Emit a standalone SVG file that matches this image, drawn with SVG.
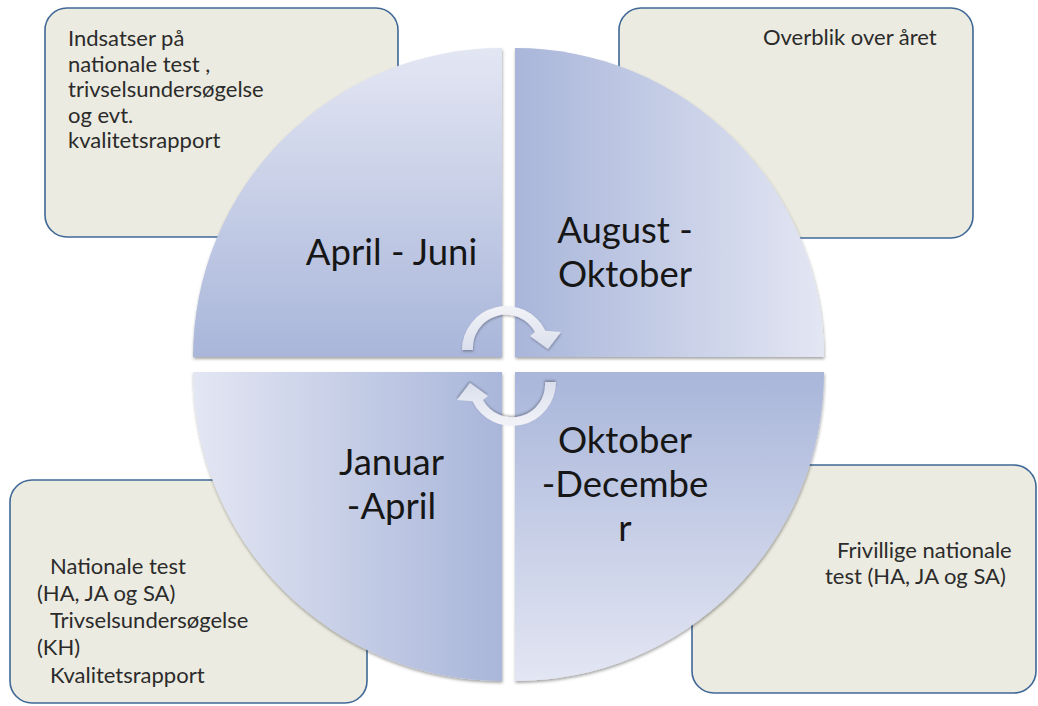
<svg xmlns="http://www.w3.org/2000/svg" width="1038" height="706" viewBox="0 0 1038 706">
<style>
.box{fill:#ecebe1;stroke:#3f6896;stroke-width:1.6}
.bt{font-family:Lato,"Liberation Sans",sans-serif;font-size:22px;fill:#2b2b2b}
.qt{font-family:Lato,"Liberation Sans",sans-serif;font-size:36.5px;fill:#161616;text-anchor:middle}
.arr{fill:url(#gArr);filter:url(#shA)}
</style>
<defs>
<linearGradient id="gTL" x1="0" y1="0" x2="0" y2="1"><stop offset="0" stop-color="#e3e6f3"/><stop offset="1" stop-color="#a9b6da"/></linearGradient>
<linearGradient id="gTR" x1="0" y1="0" x2="1" y2="0"><stop offset="0" stop-color="#a9b6da"/><stop offset="1" stop-color="#e3e6f3"/></linearGradient>
<linearGradient id="gBL" x1="0" y1="0" x2="1" y2="0"><stop offset="0" stop-color="#e3e6f3"/><stop offset="1" stop-color="#a9b6da"/></linearGradient>
<linearGradient id="gBR" x1="0" y1="0" x2="0" y2="1"><stop offset="0" stop-color="#a9b6da"/><stop offset="1" stop-color="#e3e6f3"/></linearGradient>
<linearGradient id="gArr" x1="0" y1="0" x2="0" y2="1"><stop offset="0" stop-color="#f2f3f8"/><stop offset="1" stop-color="#dbdfec"/></linearGradient>
<filter id="shQ" x="-5%" y="-5%" width="110%" height="112%"><feDropShadow dx="0.5" dy="2" stdDeviation="1.5" flood-color="#000" flood-opacity="0.35"/></filter>
<filter id="shA" x="-20%" y="-20%" width="140%" height="140%"><feDropShadow dx="0.5" dy="1.5" stdDeviation="1.2" flood-color="#000" flood-opacity="0.3"/></filter>
</defs>
<rect width="1038" height="706" fill="#ffffff"/>

<g id="box-tl">
<rect class="box" x="45" y="8" width="353" height="229" rx="22"/>
<text class="bt"><tspan x="68" y="46">Indsatser på</tspan><tspan x="68" y="71.5">nationale test ,</tspan><tspan x="68" y="97">trivselsundersøgelse</tspan><tspan x="68" y="122.5">og evt.</tspan><tspan x="68" y="148">kvalitetsrapport</tspan></text>
</g>
<g id="box-tr">
<rect class="box" x="619" y="8" width="354" height="230" rx="22"/>
<text class="bt" x="763" y="45">Overblik over året</text>
</g>
<g id="box-bl">
<rect class="box" x="10" y="480" width="357" height="223" rx="22"/>
<text class="bt"><tspan x="50" y="574">Nationale test</tspan><tspan x="37" y="601">(HA, JA og SA)</tspan><tspan x="50" y="628">Trivselsundersøgelse</tspan><tspan x="37" y="655">(KH)</tspan><tspan x="50" y="683">Kvalitetsrapport</tspan></text>
</g>
<g id="box-br">
<rect class="box" x="692" y="465" width="344" height="228" rx="22"/>
<text class="bt"><tspan x="837" y="558">Frivillige nationale</tspan><tspan x="825" y="584">test (HA, JA og SA)</tspan></text>
</g>

<g id="quad-tl">
<path d="M502,357 L193,357 A309,309 0 0 1 502,48 Z" fill="url(#gTL)" filter="url(#shQ)"/>
<text class="qt" x="391.5" y="265">April - Juni</text>
</g>
<g id="quad-tr">
<path d="M515,357 L515,48 A309,309 0 0 1 824,357 Z" fill="url(#gTR)" filter="url(#shQ)"/>
<text class="qt"><tspan x="625" y="243">August -</tspan><tspan x="625" y="287">Oktober</tspan></text>
</g>
<g id="quad-bl">
<path d="M502,372 L502,681 A309,309 0 0 1 193,372 Z" fill="url(#gBL)" filter="url(#shQ)"/>
<text class="qt"><tspan x="391.5" y="475">Januar</tspan><tspan x="391.5" y="519">-April</tspan></text>
</g>
<g id="quad-br">
<path d="M515,372 L824,372 A309,309 0 0 1 515,681 Z" fill="url(#gBR)" filter="url(#shQ)"/>
<text class="qt"><tspan x="625" y="453">Oktober</tspan><tspan x="625" y="497">-Decembe</tspan><tspan x="625" y="541">r</tspan></text>
</g>

<g id="connectors">
<path class="arr" d="M462,350 A44,44 0 0 1 545.5,330.7 L561,332 L548,349 L530,336 L535,332 A33,33 0 0 0 473,350 Z"/>
<path class="arr" d="M462,350 A44,44 0 0 1 545.5,330.7 L561,332 L548,349 L530,336 L535,332 A33,33 0 0 0 473,350 Z" transform="rotate(180 509 366)"/>
</g>
</svg>
